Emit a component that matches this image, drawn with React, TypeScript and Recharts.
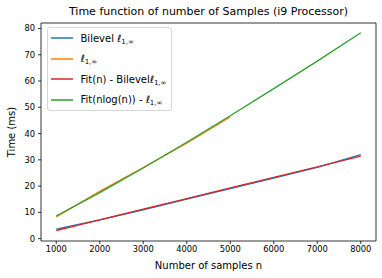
import {
  Label,
  Legend,
  Line,
  LineChart,
  ReferenceArea,
  XAxis,
  YAxis,
} from 'recharts';

// Nombre d'échantillons (axe X)
const samples = [1000, 2000, 3000, 4000, 5000, 6000, 7000, 8000];

// Temps mesurés / ajustés, en ms
const bilevel = [3.6, 7.1, 11.0, 15.0, 19.0, 23.0, 27.1, 32.0];
const linf = [8.3, 18.0, 27.1, 36.3, 46.3, null, null, null];
const fitBilevel = [3.1, 7.1, 11.2, 15.2, 19.3, 23.3, 27.3, 31.4];
const fitLinf = [8.6, 17.5, 26.9, 36.7, 46.8, 57.1, 67.6, 78.4];

const xTicks = [1000, 2000, 3000, 4000, 5000, 6000, 7000, 8000];
const yTicks = [0, 10, 20, 30, 40, 50, 60, 70, 80];

const seriesKeys = ['bilevel', 'linf', 'fitBilevel', 'fitLinf'];
const seriesColors = ['#1f77b4', '#ff7f0e', '#d62728', '#2ca02c'];
const legendPrefixes = ['Bilevel ', '', 'Fit(n) - Bilevel', 'Fit(nlog(n)) - '];

const FONT = '"DejaVu Sans", sans-serif';
const TICK = { fontSize: 8.33, fill: '#000', fontFamily: FONT };
const LABEL = { fontSize: 10, fill: '#000', fontFamily: FONT };

const data = samples.map((n, i) => ({
  n,
  bilevel: bilevel[i],
  linf: linf[i],
  fitBilevel: fitBilevel[i],
  fitLinf: fitLinf[i],
}));

/** ℓ_{1,∞} façon mathtext. */
function Ell() {
  return (
    <span>
      <span style={{ fontStyle: 'italic' }}>ℓ</span>
      <span style={{ fontSize: 7, position: 'relative', top: 2 }}>1,∞</span>
    </span>
  );
}

function LegendBox() {
  return (
    <div
      style={{
        width: 125,
        height: 84,
        boxSizing: 'border-box',
        border: '1px solid #d6d6d6',
        borderRadius: 3,
        background: 'rgba(255,255,255,0.8)',
        fontFamily: FONT,
        fontSize: 10,
        color: '#000',
      }}
    >
      {seriesKeys.map((k, i) => (
        <div
          key={k}
          style={{ display: 'flex', alignItems: 'center', height: 20.5, whiteSpace: 'nowrap' }}
        >
          <svg width={22} height={4} style={{ marginLeft: 2.5, marginRight: 8, flex: 'none' }}>
            <line x1={0} x2={22} y1={2} y2={2} stroke={seriesColors[i]} strokeWidth={1.5} />
          </svg>
          <span>
            {legendPrefixes[i]}
            <Ell />
          </span>
        </div>
      ))}
    </div>
  );
}

export default function App() {
  return (
    <div
      style={{
        position: 'absolute',
        left: 0,
        top: 0,
        width: 382,
        height: 278,
        background: '#fff',
        fontFamily: FONT,
      }}
    >
      <div
        style={{
          position: 'absolute',
          left: 41,
          width: 335,
          top: 4,
          textAlign: 'center',
          fontSize: 11,
          lineHeight: '16px',
          color: '#000',
          whiteSpace: 'nowrap',
        }}
      >
        Time function of number of Samples (i9 Processor)
      </div>
      <LineChart
        width={382}
        height={278}
        data={data}
        margin={{ top: 23, right: 6, bottom: 0, left: 0 }}
      >
        <ReferenceArea
          x1={650}
          x2={8350}
          y1={-0.9}
          y2={82.1}
          fill="none"
          stroke="#000"
          strokeWidth={0.8}
          strokeOpacity={1}
        />
        <XAxis
          dataKey="n"
          type="number"
          domain={[650, 8350]}
          ticks={xTicks}
          allowDataOverflow
          height={37}
          axisLine={false}
          tickLine={{ stroke: '#000', strokeWidth: 0.8 }}
          tickSize={3}
          tickMargin={2}
          tick={TICK}
        >
          <Label value="Number of samples n" position="center" dy={6} style={LABEL} />
        </XAxis>
        <YAxis
          type="number"
          domain={[-0.9, 82.1]}
          ticks={yTicks}
          allowDataOverflow
          width={41}
          axisLine={false}
          tickLine={{ stroke: '#000', strokeWidth: 0.8 }}
          tickSize={3}
          tickMargin={3}
          tick={TICK}
        >
          <Label
            value="Time (ms)"
            position="center"
            angle={-90}
            dx={-9}
            style={{ ...LABEL, textAnchor: 'middle' }}
          />
        </YAxis>
        <Legend
          layout="horizontal"
          align="center"
          verticalAlign="middle"
          wrapperStyle={{ left: 47, top: 27, width: 125, height: 84 }}
          content={() => <LegendBox />}
        />
        {seriesKeys.map((k, i) => (
          <Line
            key={k}
            type="linear"
            dataKey={k}
            stroke={seriesColors[i]}
            strokeWidth={1.3}
            dot={false}
            activeDot={false}
            isAnimationActive={false}
          />
        ))}
      </LineChart>
    </div>
  );
}
